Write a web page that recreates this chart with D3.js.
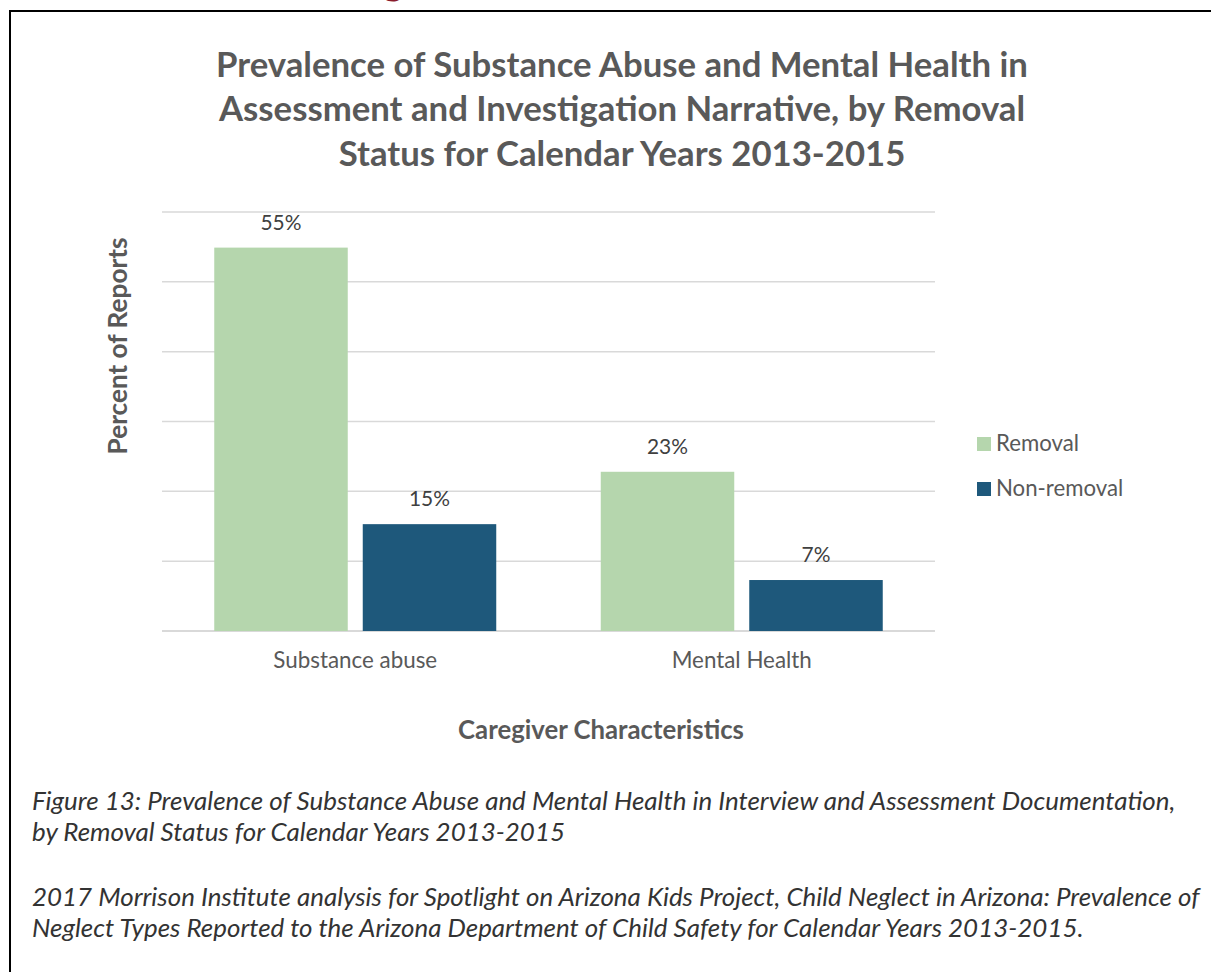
<!DOCTYPE html>
<html>
<head>
<meta charset="utf-8">
<script src="https://cdn.jsdelivr.net/npm/d3@7"></script>
<style>
  html, body { margin: 0; padding: 0; background: #ffffff; }
  svg { display: block; }
</style>
</head>
<body>
<script>
// ---- data ----
const categories = ["Substance abuse", "Mental Health"];
const seriesNames = ["Removal", "Non-removal"];
const removalValues = [54.9, 22.8];
const nonRemovalValues = [15.3, 7.3];
const gridTicks = [0, 10, 20, 30, 40, 50, 60];
const titleLines = [
  "Prevalence of Substance Abuse and Mental Health in",
  "Assessment and Investigation Narrative, by Removal",
  "Status for Calendar Years 2013-2015"
];
const xAxisTitle = "Caregiver Characteristics";
const yAxisTitle = "Percent of Reports";
const captionLines = [
  "Figure 13: Prevalence of Substance Abuse and Mental Health in Interview and Assessment Documentation,",
  "by Removal Status for Calendar Years 2013-2015",
  "2017 Morrison Institute analysis for Spotlight on Arizona Kids Project, Child Neglect in Arizona: Prevalence of",
  "Neglect Types Reported to the Arizona Department of Child Safety for Calendar Years 2013-2015."
];

const seriesColors = ["#b5d6ad", "#1e587b"];
const FONT = "Lato, 'Open Sans', sans-serif";

const W = 1211, H = 972;
const svg = d3.select("body").append("svg").attr("width", W).attr("height", H);

// helper: size text so it spans a target width
function fit(sel, target) {
  sel.attr("font-size", 100);
  const len = sel.node().getComputedTextLength();
  const fs = 100 * target / len;
  sel.attr("font-size", fs);
  return fs;
}

// page fragment above the frame (cut-off heading)
svg.append("text").attr("x", 393).attr("y", -6).attr("text-anchor", "middle")
  .attr("font-family", FONT).attr("font-weight", "bold").attr("font-size", 40)
  .attr("fill", "#8a1c2c").text("g");

// frame
svg.append("rect").attr("x", 10).attr("y", 11).attr("width", W + 20).attr("height", H + 20)
  .attr("fill", "none").attr("stroke", "#000").attr("stroke-width", 2);

// title
const tBase = [77, 121, 166];
const t0 = svg.append("text").attr("x", 622).attr("y", tBase[0]).attr("text-anchor", "middle")
  .attr("font-family", FONT).attr("font-weight", "bold").attr("fill", "#595959").text(titleLines[0]);
const tfs = fit(t0, 812);
titleLines.slice(1).forEach((l, i) => {
  svg.append("text").attr("x", 622).attr("y", tBase[i + 1]).attr("text-anchor", "middle")
    .attr("font-family", FONT).attr("font-weight", "bold").attr("fill", "#595959")
    .attr("font-size", tfs).text(l);
});

// scales
const y = d3.scaleLinear().domain([0, 60]).range([631, 212]);
const x0 = d3.scaleBand().domain(categories).range([162, 935]).paddingInner(0.2704).paddingOuter(0.1352);
const x1 = d3.scaleBand().domain(seriesNames).range([0, x0.bandwidth()]).paddingInner(0.101).paddingOuter(0);

// gridlines
svg.append("g").selectAll("line").data(gridTicks).join("line")
  .attr("x1", 162).attr("x2", 935)
  .attr("y1", d => y(d)).attr("y2", d => y(d))
  .attr("stroke", "#d9d9d9").attr("stroke-width", d => d === 0 ? 2 : 1.5);

// bars
const rows = categories.map((c, i) => ({ cat: c, vals: [removalValues[i], nonRemovalValues[i]] }));
const groups = svg.append("g").selectAll("g").data(rows).join("g")
  .attr("transform", d => `translate(${x0(d.cat)},0)`);
groups.selectAll("rect").data(d => d.vals.map((v, j) => ({ s: seriesNames[j], v, j })))
  .join("rect")
  .attr("x", d => x1(d.s)).attr("width", x1.bandwidth())
  .attr("y", d => y(d.v)).attr("height", d => y(0) - y(d.v))
  .attr("fill", d => seriesColors[d.j]);

// data labels
const fmt = d3.format(".0f");
const probe = svg.append("text").attr("font-family", FONT).text("55%");
const dlfs = fit(probe, 41);
probe.remove();
groups.selectAll("text").data(d => d.vals.map((v, j) => ({ s: seriesNames[j], v, j })))
  .join("text")
  .attr("x", d => x1(d.s) + x1.bandwidth() / 2).attr("y", d => y(d.v) - 18)
  .attr("text-anchor", "middle").attr("font-family", FONT).attr("font-size", dlfs)
  .attr("fill", "#404040").text(d => fmt(d.v) + "%");

// category labels
const cprobe = svg.append("text").attr("font-family", FONT).text(categories[0]);
const cfs = fit(cprobe, 164);
cprobe.remove();
svg.append("g").selectAll("text").data(categories).join("text")
  .attr("x", d => x0(d) + x0.bandwidth() / 2).attr("y", 668)
  .attr("text-anchor", "middle").attr("font-family", FONT).attr("font-size", cfs)
  .attr("fill", "#595959").text(d => d);

// axis titles
const xt = svg.append("text").attr("x", 601).attr("y", 739).attr("text-anchor", "middle")
  .attr("font-family", FONT).attr("font-weight", "bold").attr("fill", "#595959").text(xAxisTitle);
fit(xt, 286);
const yt = svg.append("text").attr("transform", "translate(127,346) rotate(-90)").attr("text-anchor", "middle")
  .attr("font-family", FONT).attr("font-weight", "bold").attr("fill", "#595959").text(yAxisTitle);
fit(yt, 217);

// legend
const lprobe = svg.append("text").attr("font-family", FONT).text(seriesNames[0]);
const lfs = fit(lprobe, 83);
lprobe.remove();
const leg = svg.append("g").selectAll("g").data(seriesNames).join("g")
  .attr("transform", (d, i) => `translate(977,${437 + i * 45})`);
leg.append("rect").attr("width", 14).attr("height", 14).attr("fill", (d, i) => seriesColors[i]);
leg.append("text").attr("x", 19).attr("y", 14).attr("font-family", FONT).attr("font-size", lfs)
  .attr("fill", "#595959").text(d => d);

// captions
const capBase = [810, 841, 906, 937];
const c0 = svg.append("text").attr("x", 32).attr("y", capBase[0]).attr("font-family", FONT)
  .attr("font-style", "italic").attr("fill", "#333333").text(captionLines[0]);
const capfs = fit(c0, 1144);
captionLines.slice(1).forEach((l, i) => {
  svg.append("text").attr("x", 32).attr("y", capBase[i + 1]).attr("font-family", FONT)
    .attr("font-style", "italic").attr("fill", "#333333").attr("font-size", capfs).text(l);
});
</script>
</body>
</html>
